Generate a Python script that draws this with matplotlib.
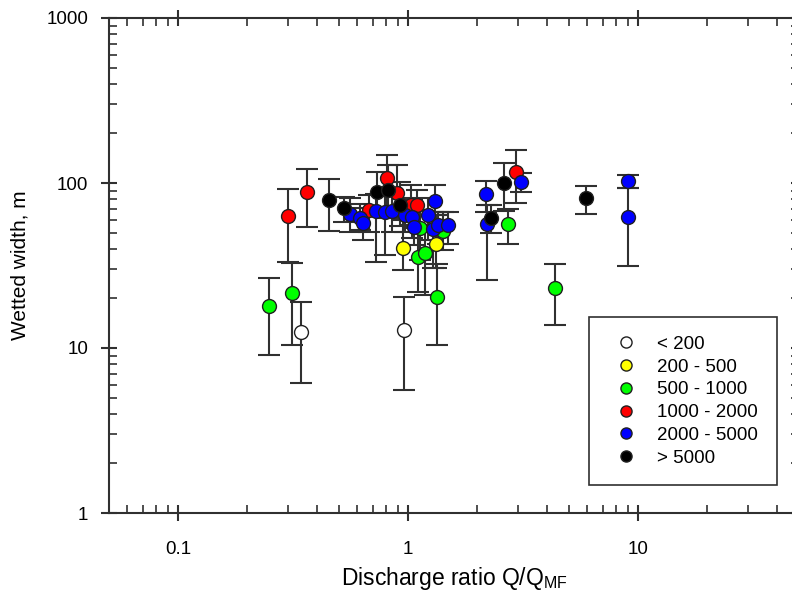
import numpy as np
import matplotlib
matplotlib.use('Agg')
from matplotlib import pyplot as plt
from matplotlib import ticker

plt.rcParams['font.family'] = ['Liberation Sans', 'DejaVu Sans']

# discharge class labels and fill colours
classes = ['< 200', '200 - 500', '500 - 1000', '1000 - 2000', '2000 - 5000', '> 5000']
colors = ['white', '#ffff00', '#00ff00', '#ff0000', '#0000ff', 'black']

# Q/QMF ratio, wetted width (m), lower and upper end of error bar
x_lt200 = [0.343, 0.96]
y_lt200 = [12.5, 12.8]
lo_lt200 = [6.1, 5.6]
hi_lt200 = [19.0, 20.4]

x_200_500 = [0.95, 1.32]
y_200_500 = [40.4, 42.7]
lo_200_500 = [29.7, 30.5]
hi_200_500 = [60.0, 64.0]

x_500_1000 = [0.249, 0.313, 1.105, 1.185, 1.34, 1.13, 1.42, 2.72, 4.36]
y_500_1000 = [18.0, 21.5, 35.6, 37.7, 20.4, 53.3, 51.1, 56.5, 23.1]
lo_500_1000 = [9.1, 10.4, 21.8, 21.0, 10.4, 34.1, 39.3, 42.7, 13.8]
hi_500_1000 = [26.5, 32.7, 53.3, 55.6, 32.3, 68.5, 66.7, 69.5, 32.3]

x_1000_2000 = [0.301, 0.364, 0.677, 0.81, 0.896, 1.03, 1.094, 2.95]
y_1000_2000 = [63.1, 88.2, 68.5, 107.0, 87.0, 73.6, 73.6, 116.6]
lo_1000_2000 = [33.2, 54.1, 50.5, 64.0, 61.4, 55.6, 53.3, 75.7]
hi_1000_2000 = [92.1, 121.6, 84.5, 148.0, 128.0, 97.3, 90.8, 158.5]

x_2000_5000 = [0.56, 0.618, 0.637, 0.726, 0.794, 0.852, 0.97, 1.04, 1.06, 1.22,
               1.31, 1.28, 1.35, 1.49, 2.18, 2.2, 3.1, 9.05, 9.05]
y_2000_5000 = [64.9, 61.4, 57.3, 67.6, 66.7, 67.6, 64.0, 62.2, 54.1, 64.0,
               77.8, 52.6, 55.6, 55.6, 85.7, 56.5, 101.4, 102.8, 62.2]
lo_2000_5000 = [50.5, 51.9, 45.2, 33.2, 36.6, 50.5, 50.5, 46.4, 42.1, 45.2,
                64.0, 30.5, 42.7, 42.7, 66.7, 25.8, 88.2, 93.3, 31.4]
hi_2000_5000 = [81.1, 74.6, 70.5, 85.7, 83.4, 83.4, 81.1, 78.9, 68.5, 81.1,
                97.3, 66.7, 66.7, 66.7, 102.8, 73.6, 115.0, 111.7, 93.3]

x_gt5000 = [0.454, 0.527, 0.733, 0.819, 0.923, 2.61, 2.3, 5.94]
y_gt5000 = [78.9, 70.5, 88.2, 90.8, 73.6, 100.0, 61.4, 81.1]
lo_gt5000 = [51.1, 58.0, 64.0, 61.4, 54.8, 67.6, 49.8, 64.9]
hi_gt5000 = [105.7, 82.2, 116.6, 128.0, 101.4, 132.0, 73.6, 95.9]

groups = [
    (x_lt200, y_lt200, lo_lt200, hi_lt200),
    (x_200_500, y_200_500, lo_200_500, hi_200_500),
    (x_500_1000, y_500_1000, lo_500_1000, hi_500_1000),
    (x_1000_2000, y_1000_2000, lo_1000_2000, hi_1000_2000),
    (x_2000_5000, y_2000_5000, lo_2000_5000, hi_2000_5000),
    (x_gt5000, y_gt5000, lo_gt5000, hi_gt5000),
]

fig = plt.figure(figsize=(7.92, 5.96), dpi=100)
# axes run past the right edge, as in the cropped original
ax = fig.add_axes([109 / 792, 83 / 596, 690 / 792, 495 / 596])
ax.set_xscale('log')
ax.set_yscale('log')
ax.set_xlim(0.05, 50)
ax.set_ylim(1, 1000)

for (xs, ys, lo, hi), label, c in zip(groups, classes, colors):
    ys = np.array(ys)
    yerr = [ys - np.array(lo), np.array(hi) - ys]
    ax.errorbar(xs, ys, yerr=yerr, fmt='none', ecolor='#303030', elinewidth=1.5,
                capsize=8, capthick=1.5, zorder=2)
    ax.plot(xs, ys, 'o', ms=10, mfc=c, mec='#202020', mew=1, ls='none',
            label=label, zorder=3)

for s in ax.spines.values():
    s.set_linewidth(1.5)
    s.set_color('#303030')

ax.xaxis.set_major_locator(ticker.LogLocator(base=10))
ax.xaxis.set_major_formatter(ticker.FuncFormatter(lambda v, p: '%g' % v))
ax.yaxis.set_major_formatter(ticker.FuncFormatter(lambda v, p: '%g' % v))
ax.tick_params(which='major', direction='inout', length=12, width=1.5, color='#303030',
               top=True, right=True, labelsize=13.5)
ax.tick_params(axis='x', which='major', pad=14)
ax.tick_params(axis='y', which='major', pad=9)
ax.tick_params(which='minor', direction='in', length=6, width=1.2, color='#303030',
               top=True, right=True)
ax.yaxis.set_minor_formatter(ticker.NullFormatter())
ax.xaxis.set_minor_formatter(ticker.NullFormatter())

ax.set_xlabel('Discharge ratio Q/Q$_{\\mathregular{MF}}$', fontsize=16.5, labelpad=5)
ax.set_ylabel('Wetted width, m', fontsize=15, labelpad=12)

leg = ax.legend(loc='upper left', bbox_to_anchor=(589 / 792, 1 - 317 / 596),
                bbox_transform=fig.transFigure, frameon=True, fancybox=False,
                edgecolor='#303030', fontsize=13.5, markerscale=0.8,
                handletextpad=0.7, labelspacing=0.3, borderpad=1.0,
                handlelength=1.95, borderaxespad=0)
leg.get_frame().set_linewidth(1.2)
leg.get_frame().set_alpha(1)

fig.savefig('out.png', dpi=100)
